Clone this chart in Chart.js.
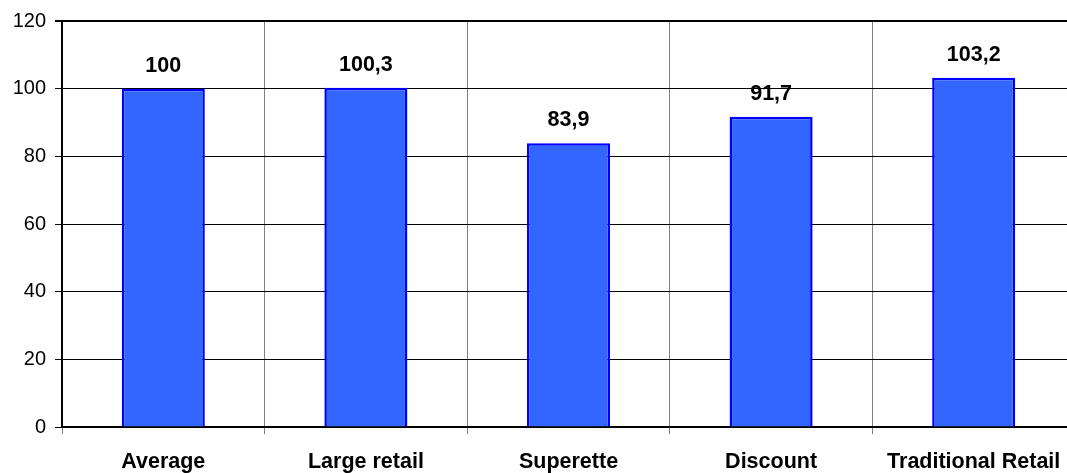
<!DOCTYPE html>
<html>
<head>
<meta charset="utf-8">
<title>Index by channel</title>
<script src="https://cdn.jsdelivr.net/npm/chart.js@4/dist/chart.umd.min.js"></script>
<style>
  html, body { margin: 0; padding: 0; background: #fff; overflow: hidden; }
  #wrap { position: relative; width: 1076px; height: 473px; }
</style>
</head>
<body>
<div id="wrap"><canvas id="chart"></canvas></div>
<script>
const categories = ['Average', 'Large retail', 'Superette', 'Discount', 'Traditional Retail']
const indexValues = [100, 100.3, 83.9, 91.7, 103.2]
const yTicks = [0, 20, 40, 60, 80, 100, 120]

const FONT = '"Liberation Sans", Arial, sans-serif'

// writes each bar's value above it, with a decimal comma
const valueLabels = {
    id: 'valueLabels',
    afterDatasetsDraw(chart) {
        const ctx = chart.ctx
        const meta = chart.getDatasetMeta(0)
        ctx.save()
        ctx.font = 'bold 21.5px ' + FONT
        ctx.fillStyle = '#000'
        ctx.textAlign = 'center'
        ctx.textBaseline = 'alphabetic'
        meta.data.forEach((bar, i) => {
            const text = String(indexValues[i]).replace('.', ',')
            ctx.fillText(text, bar.x, bar.y - 17)
        })
        ctx.restore()
    },
}

new Chart(document.getElementById('chart'), {
    type: 'bar',
    data: {
        labels: categories,
        datasets: [{
            data: indexValues,
            backgroundColor: '#3366FF',
            borderColor: '#0000FF',
            borderWidth: 2.5,
            categoryPercentage: 1,
            barPercentage: 0.41,
        }],
    },
    options: {
        responsive: true,
        maintainAspectRatio: false,
        animation: false,
        layout: { padding: { top: 20, right: 1, left: 0, bottom: 0 } },
        plugins: {
            legend: { display: false },
            tooltip: { enabled: false },
        },
        scales: {
            x: {
                offset: true,
                grid: {
                    offset: true,
                    color: '#808080',
                    tickColor: '#808080',
                    tickLength: 7,
                    lineWidth: 1,
                },
                border: { color: '#000', width: 2 },
                ticks: {
                    color: '#000',
                    padding: 15,
                    maxRotation: 0,
                    autoSkip: false,
                    font: { family: FONT, size: 21.5, weight: 'bold' },
                },
                afterFit(scale) { scale.height = 46 },
            },
            y: {
                min: 0,
                max: 120,
                afterBuildTicks(scale) {
                    scale.ticks = yTicks.map(v => ({ value: v }))
                },
                grid: {
                    color: '#000',
                    tickColor: '#000',
                    tickLength: 7,
                    lineWidth: ctx => (ctx.tick && ctx.tick.value === 120 ? 2 : 1),
                },
                border: { color: '#000', width: 2 },
                ticks: {
                    color: '#000',
                    padding: 9,
                    font: { family: FONT, size: 20 },
                },
                afterFit(scale) { scale.width = 62 },
            },
        },
    },
    plugins: [valueLabels],
})
</script>
</body>
</html>
